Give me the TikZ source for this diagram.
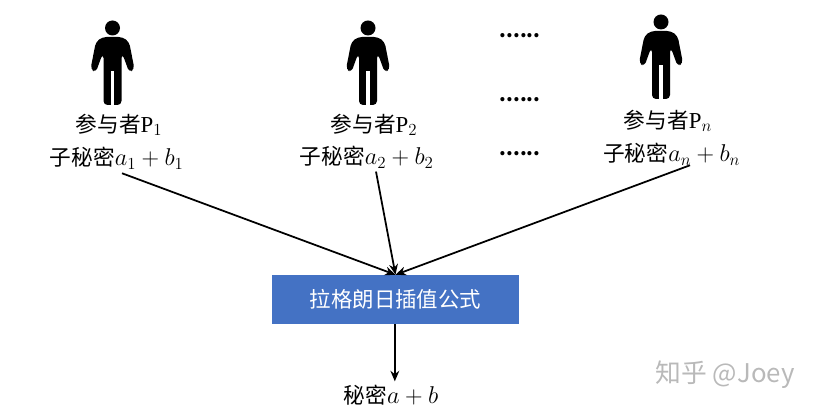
\documentclass[tikz,border=0pt]{standalone}
\usepackage{amsmath}
\usepackage{fontspec}
\usepackage{tikz}
\usetikzlibrary{calc,arrows.meta}
\setmainfont{Noto Sans CJK SC}
\setmathrm{Liberation Serif}
\DeclareMathSizes{18.5}{19.5}{13.5}{10}
\definecolor{boxblue}{RGB}{68,114,196}
\definecolor{markgray}{RGB}{185,185,185}
\tikzset{
  person/.pic={
    \fill (0,0) circle (0.225);
    \fill[rounded corners=0.12cm] (-0.3,-0.27) -- (0.3,-0.27) -- (0.5,-0.42) -- (0.66,-1.24) -- (0.5,-1.33) -- (0.3,-0.78)
      -- (0.27,-0.78) -- (0.27,-2.31) -- (-0.27,-2.31) -- (-0.27,-0.78) -- (-0.3,-0.78) -- (-0.5,-1.33) -- (-0.66,-1.24) -- (-0.5,-0.42) -- cycle;
    \fill[white] (-0.05,-1.29) rectangle (0.05,-2.32);
  }
}
\begin{document}
\begin{tikzpicture}
  \tikzstyle{txt}=[inner sep=0pt,font=\fontsize{18.5pt}{20pt}\selectfont]
  \tikzstyle{dots}=[inner sep=0pt,font=\bfseries\fontsize{16.5pt}{20pt}\selectfont]
  \tikzstyle{arr}=[line width=1.5pt,-{Stealth[length=9pt,width=7.5pt]}]
  \useasboundingbox (0,0) rectangle (24.42,12.36);
  \pic at (3.375,11.52) {person};
  \pic at (11.04,11.52) {person};
  \pic at (19.83,11.70) {person};
  \node [txt] (p1) at (3.57,8.61) {参与者$\mathrm{P}_1$};
  \node [txt] (p2) at (11.22,8.61) {参与者$\mathrm{P}_2$};
  \node [txt] (pn) at (20.04,8.73) {参与者$\mathrm{P}_n$};
  \node [txt] (s1) at (3.5,7.62) {子秘密$a_1+b_1$};
  \node [txt] (s2) at (11.0,7.65) {子秘密$a_2+b_2$};
  \node [txt] (sn) at (20.15,7.74) {子秘密$a_n+b_n$};
  \node [dots] (d1) at (15.6,11.28) {......};
  \node [dots] (d2) at (15.6,9.36) {......};
  \node [dots] (d3) at (15.6,7.74) {......};
  \node [fill=boxblue,text=white,inner sep=0pt,font=\fontsize{18.3pt}{20pt}\selectfont,minimum width=7.41cm,minimum height=1.47cm] (box) at (11.865,3.375) {拉格朗日插值公式};
  \node [txt] (res) at (11.73,0.51) {秘密$a+b$};
  \node [inner sep=0pt,text=markgray,font=\fontsize{22pt}{24pt}\selectfont] (mark) at (21.75,1.11) {知乎 @Joey};
  \draw [arr] ([xshift=0.16cm,yshift=-0.12cm]s1.south) -- (box.north);
  \draw [arr] ([xshift=0.28cm,yshift=-0.1cm]s2.south) -- (box.north);
  \draw [arr] ([xshift=0.55cm]sn.south) -- (box.north);
  \draw [arr] ([xshift=-0.02cm]box.south) -- ([xshift=-0.02cm,yshift=0.1cm]res.north -| box.south);
\end{tikzpicture}
\end{document}
